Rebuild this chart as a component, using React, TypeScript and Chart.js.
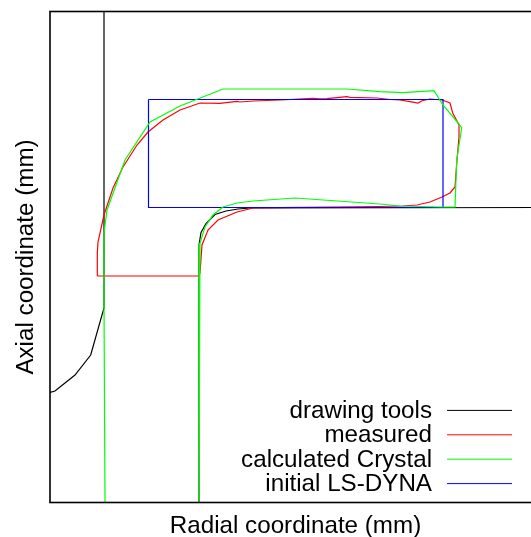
import React, { useEffect, useRef } from "react";
import { Chart, registerables } from "chart.js";

Chart.register(...registerables);

type P = [number, number];

const xTitle = "Radial coordinate (mm)";
const yTitle = "Axial coordinate (mm)";
const xMax = 49.1;
const yMax = 49.1;

const toolUpper: P[] = [[5.4, 49.1], [5.4, 19.45], [4.07, 14.75], [2.5, 12.75], [0.5, 11.15], [0, 11.02]];
const toolLower: P[] = [[14.9, 0], [14.9, 25.75], [15.1, 27], [15.6, 27.9], [16.5, 28.8], [17.6, 29.15], [18.8, 29.35], [20, 29.45], [49.1, 29.5]];
const measured: P[] = [
  [4.73, 22.65], [4.73, 24.95], [4.8, 26.05], [5.4, 28.75], [6.3, 31.45], [7.3, 33.55], [8.7, 35.75], [9.8, 37.05],
  [11.3, 38.25], [13, 39.25], [15, 39.95], [17, 39.92], [18.67, 40.12], [19, 40.05], [20.3, 40.15], [23, 40.25],
  [26.3, 40.42], [27, 40.37], [27.7, 40.39], [29.67, 40.58], [30, 40.52], [32.7, 40.45], [34, 40.3], [35, 40.25],
  [36, 40.08], [36.8, 39.95], [37.2, 40.18], [38, 40.35], [39.2, 40.25], [40, 39.95], [40.27, 38.95], [40.9, 37.75],
  [40.9, 36.55], [40.7, 34.25], [40.5, 31.55], [40, 30.95], [39.2, 30.55], [38, 30.05], [36.7, 29.75], [35.3, 29.65],
  [33, 29.6], [23, 29.48], [20.3, 29.45], [18.7, 29.05], [16.8, 28.25], [15.8, 27.25], [15.2, 25.75], [15, 22.95],
  [14.8, 22.65], [4.73, 22.65],
];
const crystal: P[] = [
  [5.5, 0], [5.4, 20], [5.4, 26.95], [5.7, 29.25], [7.5, 34.25], [10, 38.05], [13, 39.65], [17.3, 41.35], [29.7, 41.35], [33, 41.08],
  [35.3, 40.98], [38.4, 41.18], [39.3, 39.75], [40.9, 37.85], [41.17, 37.45], [40.67, 34.25], [40.5, 29.55], [39, 29.55], [35, 29.65],
  [33, 29.85], [24.5, 30.45], [20.3, 30.15], [18.7, 29.95], [17.3, 29.55], [16.3, 28.75], [15.5, 27.55], [15, 25.95], [14.9, 21.25], [14.9, 0],
];
const initial: P[] = [[9.85, 40.3], [39.3, 40.3], [39.3, 29.5], [9.85, 29.5], [9.85, 40.3]];

const names = ["drawing tools", "measured", "calculated Crystal", "initial LS-DYNA"];
const colors = ["#000000", "#ff0000", "#00ff00", "#0000ff"];
const font = '"Liberation Sans", Arial, sans-serif';
const fontSize = 24.2;

const line = (label: string | undefined, data: P[], color: string, order: number) => ({
  label,
  data: data.map(([x, y]) => ({ x, y })),
  borderColor: color,
  borderWidth: 1.2,
  showLine: true,
  pointRadius: 0,
  tension: 0,
  order,
});

const framePlugin = {
  id: "frame",
  afterDraw(chart: any) {
    const { ctx, chartArea: a } = chart;
    ctx.save();
    ctx.strokeStyle = "#000";
    ctx.lineWidth = 1.6;
    ctx.strokeRect(a.left, a.top, a.right - a.left, a.bottom - a.top);
    ctx.font = `${fontSize}px ${font}`;
    ctx.textAlign = "right";
    ctx.textBaseline = "middle";
    names.forEach((n, i) => {
      const y = 410.4 + i * 24.4;
      ctx.fillStyle = "#000";
      ctx.fillText(n, 432, y + 1);
      ctx.strokeStyle = colors[i];
      ctx.lineWidth = 1;
      ctx.beginPath();
      ctx.moveTo(447, y);
      ctx.lineTo(512, y);
      ctx.stroke();
    });
    ctx.restore();
  },
};

export default function App() {
  const ref = useRef<HTMLCanvasElement>(null);
  useEffect(() => {
    const chart = new Chart(ref.current!, {
      type: "scatter",
      data: {
        datasets: [
          line(names[0], toolUpper, colors[0], 4),
          line(undefined, toolLower, colors[0], 4),
          line(names[1], measured, colors[1], 3),
          line(names[3], initial, colors[3], 2),
          line(names[2], crystal, colors[2], 1),
        ] as any,
      },
      options: {
        animation: false,
        responsive: false,
        layout: { padding: { left: 14, top: 11.5, right: 0, bottom: -1.5 } },
        plugins: { legend: { display: false }, tooltip: { enabled: false } },
        scales: {
          x: {
            type: "linear",
            min: 0,
            max: xMax,
            ticks: { display: false },
            grid: { display: false, drawTicks: false },
            border: { display: false },
            title: { display: true, text: xTitle, color: "#000", font: { family: font, size: fontSize, lineHeight: 1 }, padding: { top: 11.8, bottom: 0 } },
          },
          y: {
            type: "linear",
            min: 0,
            max: yMax,
            ticks: { display: false },
            grid: { display: false, drawTicks: false },
            border: { display: false },
            title: { display: true, text: yTitle, color: "#000", font: { family: font, size: fontSize, lineHeight: 1 }, padding: { top: 0, bottom: 11.8 } },
          },
        },
      },
      plugins: [framePlugin],
    });
    return () => chart.destroy();
  }, []);
  return (
    <div style={{ position: "absolute", left: 0, top: 0, width: 531, height: 537, overflow: "hidden", background: "#fff" }}>
      <canvas ref={ref} width={541} height={537} style={{ display: "block" }} />
    </div>
  );
}
